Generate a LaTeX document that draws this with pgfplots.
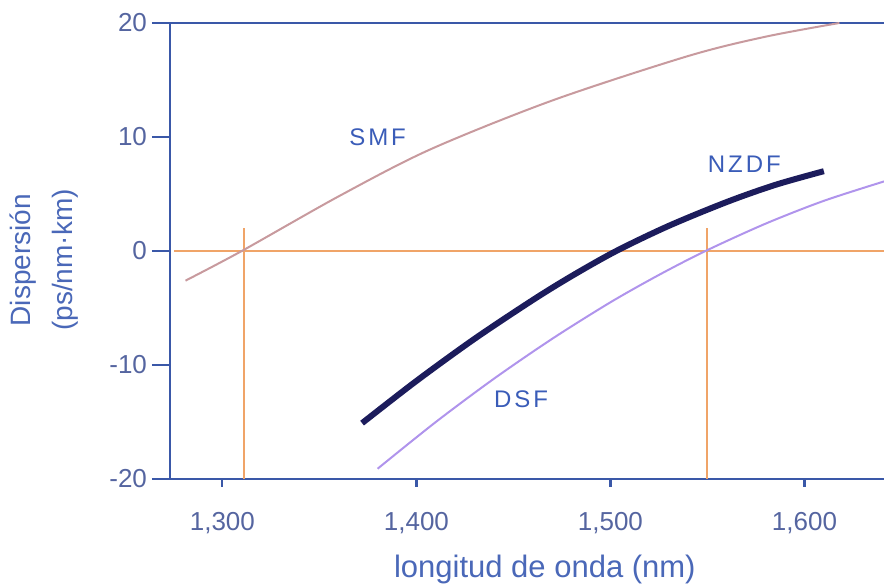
\documentclass[border=0pt]{standalone}
\usepackage{pgfplots}
\pgfplotsset{compat=1.18}
\usepackage{fontspec}
\setmainfont{Liberation Sans}
\definecolor{axisblue}{HTML}{3A58A8}
\definecolor{ticktext}{HTML}{5565A0}
\definecolor{labelblue}{HTML}{4A68B8}
\definecolor{curvetext}{HTML}{3A5CB8}
\definecolor{smfcol}{HTML}{C89A9E}
\definecolor{nzdfcol}{HTML}{1C1C5C}
\definecolor{dsfcol}{HTML}{B094EC}
\definecolor{guide}{HTML}{F0A468}

\begin{document}
\begin{tikzpicture}
\begin{axis}[
  name=ax,
  scale only axis,
  width=357pt, height=228pt,
  xmin=1273, xmax=1641,
  ymin=-20, ymax=20,
  separate axis lines,
  axis x line*=box, axis y line*=left,
  axis line style={axisblue, line width=1.2pt},
  xtick pos=bottom, ytick pos=left,
  tick align=outside,
  major tick length=4pt,
  tick style={axisblue, line width=1.1pt},
  ytick style={/pgfplots/major tick length=9pt},
  xtick={1300,1400,1500,1600},
  xticklabels={{1,300},{1,400},{1,500},{1,600}},
  ytick={-20,-10,0,10,20},
  yticklabels={-20,-10,0,10,20},
  ticklabel style={font=\fontsize{13}{15}\selectfont, text=ticktext},
  xticklabel style={yshift=-9pt},
  yticklabel style={xshift=-4pt},
  xlabel={longitud de onda (nm)},
  xlabel style={font=\fontsize{15.5}{18}\selectfont, text=labelblue,
    at={(rel axis cs:0.525,0)}, anchor=center, yshift=-45pt},
  ylabel={Dispersión\\(ps/nm·km)},
  ylabel style={font=\fontsize{14}{21}\selectfont, text=labelblue, align=center,
    at={(rel axis cs:0,0.48)}, anchor=center, yshift=63pt},
  clip=true,
]
% guide lines at the zero-dispersion wavelengths
\addplot[guide, line width=1pt] coordinates {(1275,0) (1641,0)};
\addplot[guide, line width=1pt] coordinates {(1311,2) (1311,-20)};
\addplot[guide, line width=1pt] coordinates {(1550,2) (1550,-20)};

% SMF
\addplot[smfcol, line width=1pt, smooth] coordinates {
  (1281,-2.6) (1310,0) (1360,4.8) (1407,8.9) (1470,13.2)
  (1540,17.1) (1580,18.8) (1618,20.0)
};
% DSF
\addplot[dsfcol, line width=1pt, smooth] coordinates {
  (1380,-19.1) (1410,-15.0) (1440,-11.2) (1470,-7.7) (1500,-4.5)
  (1525,-2.1) (1549,0) (1580,2.4) (1610,4.4) (1641,6.1)
};
% NZDF
\addplot[nzdfcol, line width=3pt, smooth] coordinates {
  (1372,-15.1) (1400,-11.4) (1430,-7.7) (1460,-4.3) (1480,-2.2)
  (1503,0) (1530,2.2) (1560,4.3) (1585,5.8) (1610,7.0)
};

\node[text=curvetext, font=\fontsize{12}{14}\selectfont] at (axis cs:1380,10) {S\kern1.5pt M\kern1.5pt F};
\node[text=curvetext, font=\fontsize{12}{14}\selectfont] at (axis cs:1569,7.6) {N\kern1.5pt Z\kern1.5pt D\kern1.5pt F};
\node[text=curvetext, font=\fontsize{12}{14}\selectfont] at (axis cs:1454,-13) {D\kern1.5pt S\kern1.5pt F};
\end{axis}
\pgfresetboundingbox
\path ([shift={(-85pt,-53.5pt)}]ax.south west) rectangle ([shift={(0pt,11.5pt)}]ax.north east);
\end{tikzpicture}
\end{document}
